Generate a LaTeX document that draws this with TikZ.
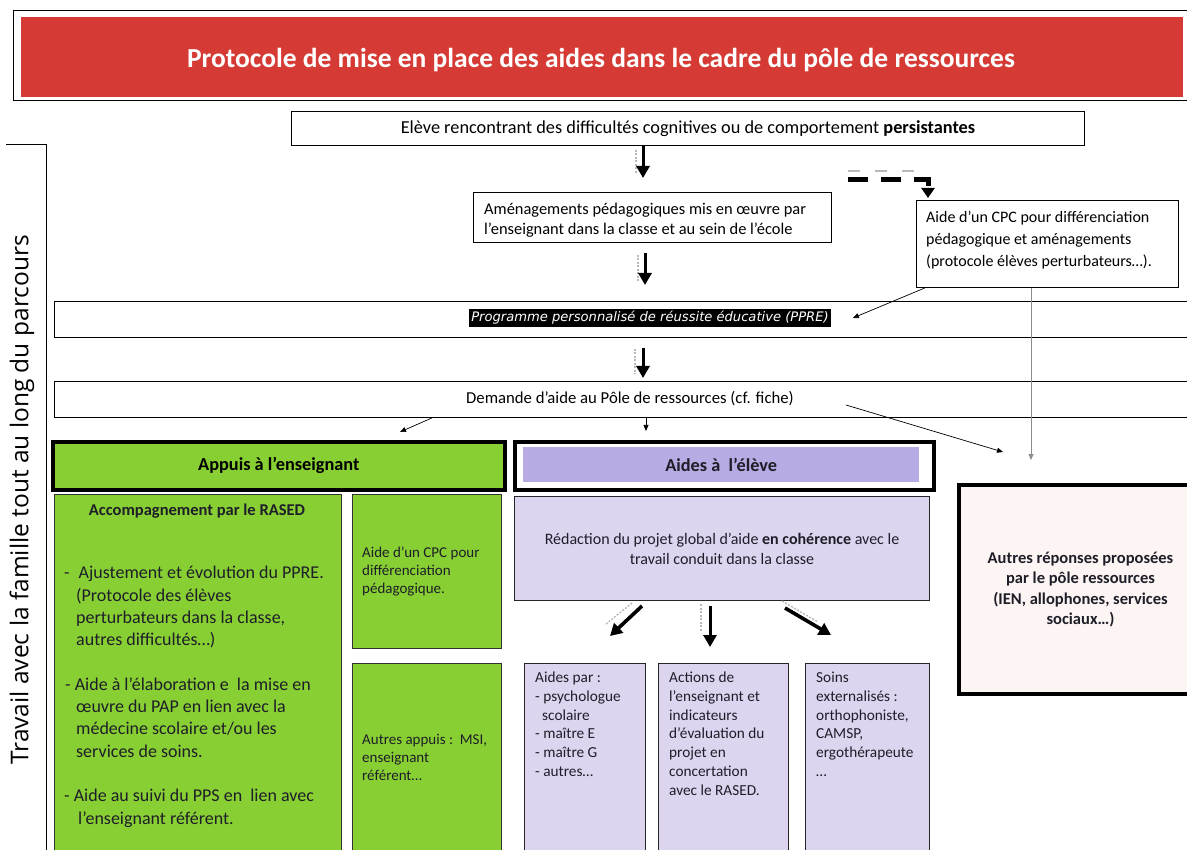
\documentclass[tikz,border=0pt]{standalone}
\usepackage{fontspec}
\setmainfont{Carlito}
\newfontfamily\famfont{Open Sans}
\newfontfamily\pprefont{DejaVu Sans}
\usetikzlibrary{arrows.meta,calc}
\definecolor{titlered}{RGB}{214,58,52}
\definecolor{lime}{RGB}{136,207,52}
\definecolor{lavhead}{RGB}{184,170,226}
\definecolor{lav}{RGB}{221,212,240}
\definecolor{pinkish}{RGB}{253,244,244}
\definecolor{ghost}{RGB}{185,185,185}
\definecolor{darktxt}{RGB}{30,30,40}
\newcommand\szMain{\fontsize{16.4}{20}\selectfont}
\newcommand\szEleve{\fontsize{18.3}{22}\selectfont}
\newcommand\szDem{\fontsize{16.7}{20}\selectfont}
\newcommand\szHead{\fontsize{18.3}{22}\selectfont}
\newcommand\szCpc{\fontsize{16}{22}\selectfont}
\newcommand\szTitle{\fontsize{27.5}{32}\selectfont}
\newcommand\szGreen{\fontsize{18}{22.3}\selectfont}
\newcommand\szSmall{\fontsize{15}{18}\selectfont}
\newcommand\szPurp{\fontsize{15.3}{18.7}\selectfont}
\newcommand\szAutres{\fontsize{16.5}{20.3}\selectfont}
\newcommand\szPpre{\fontsize{13.1}{15}\selectfont}
\newcommand\szFam{\fontsize{24.5}{29}\selectfont}
\tikzset{
  boxw/.style={draw=black, line width=0.9pt, fill=white, inner sep=0pt, anchor=north west},
  greenbox/.style={draw=black!80, line width=0.9pt, fill=lime, inner sep=0pt, anchor=north west},
  lavbox/.style={draw=black!85, line width=1pt, fill=lav, inner sep=0pt, anchor=north west},
  frame/.style={draw=black, line width=3.6pt, inner sep=0pt, anchor=north west},
  txt/.style={inner sep=0pt, anchor=north west, align=left},
  bigarrow/.style={line width=3pt, -{Triangle[length=12pt,width=13pt]}},
  diagarrow/.style={line width=3.6pt, -{Triangle[length=12pt,width=13pt]}},
  thinarrow/.style={line width=0.7pt, -{Triangle[length=6pt,width=5pt]}},
  ghostline/.style={ghost, line width=1.4pt, dash pattern=on 2pt off 1.5pt},
}
\begin{document}
\begin{tikzpicture}[x=1pt,y=-1pt]
\useasboundingbox (0,0) rectangle (1187,850);
\clip (0,0) rectangle (1187,850);

% title
\draw[line width=1pt] (13,11) rectangle (1200,101);
\node[fill=titlered, inner sep=0pt, anchor=north west, minimum width=1162, minimum height=80] (title) at (21,17) {};
\node[text=white, font=\szTitle\bfseries, inner sep=0pt, anchor=base] (titletext) at (601,68)
  {Protocole de mise en place des aides dans le cadre du pôle de ressources};

% left band
\draw[line width=0.9pt] (6,144) -- (46,144) -- (46,860);
\node[rotate=90, font=\szFam\famfont, inner sep=0pt] (famille) at (22,500)
  {Travail avec la famille tout au long du parcours};

% top boxes
\node[boxw, minimum width=793, minimum height=34, font=\szEleve] (eleve) at (291,111)
  {Elève rencontrant des difficultés cognitives ou de comportement \textbf{persistantes}};
\node[boxw, minimum width=358, minimum height=50] (amen) at (473,192) {};
\node[txt, font=\szMain] (amentext) at (484,203)
  {Aménagements pédagogiques mis en œuvre par\\ l’enseignant dans la classe et au sein de l’école};
\node[boxw, minimum width=262, minimum height=87] (cpc) at (916,200) {};
\node[txt, font=\szCpc] (cpctext) at (926,211)
  {Aide d’un CPC pour différenciation\\ pédagogique et aménagements\\ (protocole élèves perturbateurs…).};

% bands
\node[boxw, minimum width=1150, minimum height=36] (ppre) at (54,301) {};
\node[fill=black, text=white, font=\szPpre\pprefont\itshape, inner xsep=2pt, inner ysep=2.5pt] (ppreLabel) at (650,318)
  {Programme personnalisé de réussite éducative (PPRE)};
\node[boxw, minimum width=1150, minimum height=36] (dem) at (54,381) {};
\node[font=\szDem, inner sep=0pt] (demtext) at (630,399) {Demande d’aide au Pôle de ressources (cf. fiche)};

% headers
\node[frame, fill=lime, minimum width=452, minimum height=48, font=\szHead\bfseries] (appuis) at (51,440)
  {Appuis à l’enseignant};
\node[frame, fill=white, minimum width=419, minimum height=48] (aides) at (513,440) {};
\node[fill=lavhead, inner sep=0pt, anchor=north west, minimum width=396, minimum height=35,
      font=\szHead\bfseries, text=darktxt] (aidesbar) at (523,447) {Aides à\ \ l’élève};

% green column
\node[greenbox, minimum width=287, minimum height=380] (rased) at (54,494) {};
\node[font=\fontsize{16.5}{19}\selectfont\bfseries, text=darktxt, inner sep=0pt] (rasedtitle) at (197,511)
  {Accompagnement par le RASED};
\node[txt, font=\szGreen, text=darktxt] (rasedbody) at (64,566)
  {-\hspace{9pt}Ajustement et évolution du PPRE.\\
   \hspace*{12pt}(Protocole des élèves\\
   \hspace*{12pt}perturbateurs dans la classe,\\
   \hspace*{12pt}autres difficultés…)\\[22.3pt]
   \hspace*{1pt}- Aide à l’élaboration e\ \ la mise en\\
   \hspace*{12pt}œuvre du PAP en lien avec la\\
   \hspace*{12pt}médecine scolaire et/ou les\\
   \hspace*{12pt}services de soins.\\[22.3pt]
   - Aide au suivi du PPS en\ \ lien avec\\
   \hspace*{14pt}l’enseignant référent.};
\node[greenbox, minimum width=149, minimum height=154] (cpcg) at (352,494) {};
\node[txt, font=\szSmall, text=darktxt] (cpcgt) at (362,547)
  {Aide d’un CPC pour\\ différenciation\\ pédagogique.};
\node[greenbox, minimum width=149, minimum height=210] (autresg) at (352,663) {};
\node[txt, font=\szSmall, text=darktxt] (autresgt) at (362,734)
  {Autres appuis :\ \ MSI,\\ enseignant\\ référent…};

% purple column
\node[lavbox, minimum width=415, minimum height=104, font=\fontsize{16}{20}\selectfont, text=darktxt, align=center] (redac) at (514,496)
  {Rédaction du projet global d’aide \textbf{en cohérence} avec le\\ travail conduit dans la classe};
\node[lavbox, minimum width=121, minimum height=210] (b1) at (524,663) {};
\node[lavbox, minimum width=130, minimum height=210] (b2) at (658,663) {};
\node[lavbox, minimum width=124, minimum height=210] (b3) at (805,663) {};
\node[txt, font=\szPurp, text=darktxt] (b1t) at (535,672)
  {Aides par :\\ - psychologue\\ \hspace*{7pt}scolaire\\ - maître E\\ - maître G\\ - autres…};
\node[txt, font=\szPurp, text=darktxt] (b2t) at (669,672)
  {Actions de\\ l’enseignant et\\ indicateurs\\ d’évaluation du\\ projet en\\ concertation\\ avec le RASED.};
\node[txt, font=\szPurp, text=darktxt] (b3t) at (816,672)
  {Soins\\ externalisés :\\ orthophoniste,\\ CAMSP,\\ ergothérapeute\\ …};

% autres
\node[frame, line width=4pt, fill=pinkish, minimum width=243, minimum height=209,
      font=\szAutres\bfseries, text=darktxt, align=center] (autres) at (957,483)
  {Autres réponses proposées\\ par le pôle ressources\\ (IEN, allophones, services\\ sociaux…)};

% connectors
\coordinate (ax1) at (643,0);
\coordinate (ax2) at (645,0);
\coordinate (ax3) at (643,0);
\coordinate (ax4) at (928,0);
\coordinate (ax5) at (1031,0);
\coordinate (ax6) at (432,0);
\coordinate (ax7) at (400,0);
\coordinate (ax8) at (646,0);
\coordinate (dstart) at (848,180);

% faint ghost marks
\draw[ghostline] (636,150) -- (636,174);
\draw[ghostline] (638,255) -- (638,281);
\draw[ghostline] (635,349) -- (635,374);
\draw[ghost, line width=1.2pt, dash pattern=on 12pt off 15pt] (848,171) -- (925,171);
\draw[ghostline] (632,603) -- (606,624);
\draw[ghostline] (701,604) -- (701,632);
\draw[ghostline] (782,601) -- (818,622);

\draw[bigarrow, shorten >=14pt] (ax1 |- eleve.south) -- (ax1 |- amen.north);
\draw[bigarrow, shorten <=10pt, shorten >=16pt] (ax2 |- amen.south) -- (ax2 |- ppre.north);
\draw[bigarrow, shorten <=10pt, shorten >=3pt] (ax3 |- ppre.south) -- (ax3 |- dem.north);
\draw[line width=5pt, dash pattern=on 20pt off 13pt, -{Triangle[length=10pt,width=13pt]}, shorten >=2pt]
  (dstart) -- (dstart -| ax4) -- (ax4 |- cpc.north);
\draw[thinarrow] ([xshift=9pt]cpc.south west) -- ([xshift=22pt]ppreLabel.east);
\draw[thinarrow, draw=black!45, line width=1pt] (ax5 |- cpc.south) -- ([yshift=23pt]ax5 |- autres.north);
\draw[thinarrow] (ax6 |- dem.south) -- ([yshift=8pt]ax7 |- appuis.north);
\draw[thinarrow] (ax8 |- dem.south) -- ([yshift=9pt]ax8 |- aides.north);
\draw[thinarrow] ($(demtext.east)+(52,6)$) -- ($(autres.north west)+(46,-31)$);
\draw[diagarrow] ($(redac.south west)+(128,5)$) -- ($(b1.north west)+(86,-27)$);
\draw[bigarrow] ($(redac.south west)+(196,5)$) -- ($(b2.north west)+(52,-16)$);
\draw[diagarrow] ($(redac.south west)+(271,7)$) -- ($(b3.north west)+(26,-28)$);
\end{tikzpicture}
\end{document}
